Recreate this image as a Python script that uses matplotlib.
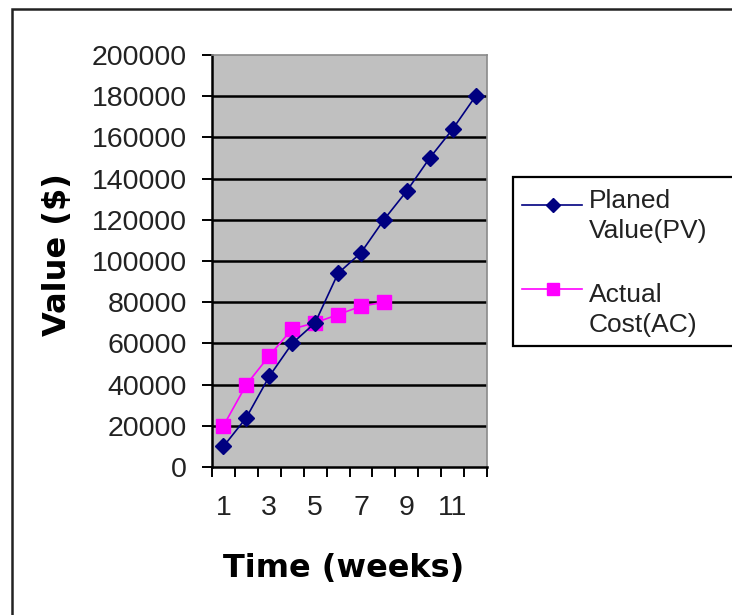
import matplotlib
matplotlib.use("Agg")
import matplotlib.pyplot as plt
from matplotlib.patches import Rectangle
from matplotlib.lines import Line2D

weeks = [1, 2, 3, 4, 5, 6, 7, 8, 9, 10, 11, 12]
planned_value = [10000, 24000, 44000, 60000, 70000, 94000, 104000, 120000,
                 134000, 150000, 164000, 180000]
actual_cost = [20000, 40000, 54000, 67000, 70000, 74000, 78000, 80000]
y_ticks = [0, 20000, 40000, 60000, 80000, 100000, 120000, 140000, 160000,
           180000, 200000]
x_labels = ["1", "3", "5", "7", "9", "11"]

W, H = 732, 615
fig = plt.figure(figsize=(W / 100, H / 100), dpi=100)
fig.patch.set_facecolor("white")

# outer chart frame
fig.patches.append(Rectangle((12 / W, 0 - 0.05), 1.1, 1 - 9 / H + 0.05,
                             transform=fig.transFigure, fill=False,
                             edgecolor="#222222", linewidth=1.8, zorder=0))

left, right, top, bottom = 212, 487, 55, 467
ax = fig.add_axes([left / W, 1 - bottom / H, (right - left) / W, (bottom - top) / H])
ax.set_facecolor("#C0C0C0")

# category positions centred between tick marks
xpos_pv = [w - 0.5 for w in weeks]
xpos_ac = [w - 0.5 for w in weeks[:len(actual_cost)]]

for yv in y_ticks[1:-1]:
    ax.axhline(yv, color="black", linewidth=1.8, zorder=1)

ax.plot(xpos_pv, planned_value, color="#000080", linewidth=1.2,
        marker="D", markersize=8, markerfacecolor="#000080",
        markeredgecolor="#000080", zorder=3)
ax.plot(xpos_ac, actual_cost, color="#FF00FF", linewidth=1.2,
        marker="s", markersize=10, markerfacecolor="#FF00FF",
        markeredgecolor="#FF00FF", zorder=2)

ax.set_xlim(0, 12)
ax.set_ylim(0, 200000)
ax.set_yticks(y_ticks)
ax.set_yticklabels([str(v) for v in y_ticks])
ax.set_xticks(range(0, 13))
ax.set_xticklabels([])
ax.set_xticks([0.5, 2.5, 4.5, 6.5, 8.5, 10.5], minor=True)
ax.set_xticklabels(x_labels, minor=True)
ax.tick_params(axis="x", which="major", length=7.5, width=1.4, direction="out")
ax.tick_params(axis="x", which="minor", length=0, pad=20)
ax.tick_params(axis="y", length=7.5, width=1.4, direction="out", pad=10.5)
for lab in ax.get_yticklabels() + ax.get_xticklabels(minor=True):
    lab.set_fontfamily("Liberation Sans")
    lab.set_fontsize(20.5)
    lab.set_color("#222222")

for side in ["left", "bottom"]:
    ax.spines[side].set_color("black")
    ax.spines[side].set_linewidth(1.8)
for side in ["top", "right"]:
    ax.spines[side].set_color("#8a8a8a")
    ax.spines[side].set_linewidth(1.2)

ax.set_ylabel("Value ($)", fontfamily="DejaVu Sans", fontsize=23,
              fontweight="bold")
ax.yaxis.set_label_coords(-(left - 73) / (right - left), (467 - 255) / (467 - 55))
ax.set_xlabel("Time (weeks)", fontfamily="DejaVu Sans", fontsize=23,
              fontweight="bold")
ax.xaxis.set_label_coords((344 - left) / (right - left), -(553 - 467) / (467 - 55))

# legend panel
fig.patches.append(Rectangle((513 / W, 1 - 346 / H), 0.5, (346 - 177) / H,
                             transform=fig.transFigure, facecolor="white",
                             edgecolor="black", linewidth=1.6, zorder=1))
# (label, colour, marker, marker size, handle y, last-line baseline y)
entries = [("Planed\nValue(PV)", "#000080", "D", 7, 205, 238),
           ("Actual\nCost(AC)", "#FF00FF", "s", 9, 289, 332)]
for text, col, mk, ms, yl, yb in entries:
    fig.lines.append(Line2D([522 / W, 582 / W], [1 - yl / H] * 2,
                            transform=fig.transFigure, color=col, linewidth=1.2,
                            zorder=2))
    fig.lines.append(Line2D([553 / W], [1 - yl / H],
                            transform=fig.transFigure, color=col, marker=mk,
                            markersize=ms, zorder=3))
    fig.text(589 / W, 1 - yb / H, text, fontfamily="Liberation Sans",
             fontsize=19, color="#222222", va="baseline", ha="left",
             linespacing=1.3, zorder=4)

fig.savefig("out.png", dpi=100)
